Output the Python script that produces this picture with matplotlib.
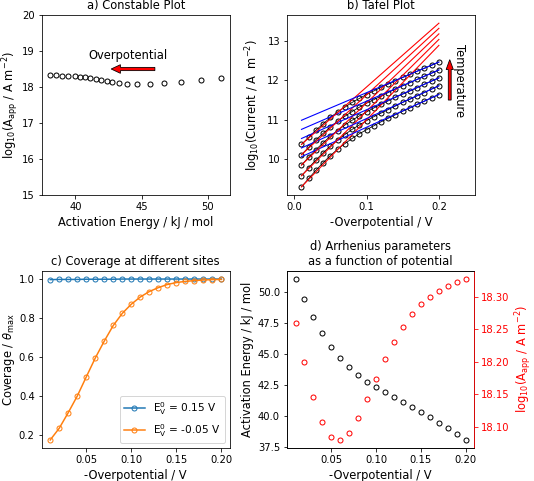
import numpy as np
import matplotlib
matplotlib.use("Agg")
import matplotlib.pyplot as plt

plt.rcParams["font.size"] = 11.5
plt.rcParams["xtick.labelsize"] = 10
plt.rcParams["ytick.labelsize"] = 10
plt.rcParams["axes.titlesize"] = 11.5
plt.rcParams["axes.labelsize"] = 11.5
plt.rcParams["legend.fontsize"] = 10.5
plt.rcParams["lines.markersize"] = 5

# -Overpotential / V
eta = [0.01, 0.02, 0.03, 0.04, 0.05, 0.06, 0.07, 0.08, 0.09, 0.10,
       0.11, 0.12, 0.13, 0.14, 0.15, 0.16, 0.17, 0.18, 0.19, 0.20]

# Arrhenius parameters
Ea = [51.02, 49.45, 47.98, 46.70, 45.60, 44.65, 43.92, 43.29, 42.79, 42.37,
      41.93, 41.54, 41.14, 40.75, 40.36, 39.94, 39.47, 39.02, 38.55, 38.10]
logA = [18.260, 18.199, 18.146, 18.107, 18.085, 18.080, 18.091, 18.113, 18.143, 18.174,
        18.204, 18.231, 18.253, 18.273, 18.288, 18.300, 18.309, 18.316, 18.322, 18.327]

# coverage
cov_015 = [0.997, 0.998, 0.998, 0.998, 0.999, 0.999, 0.999, 0.999, 1.0, 1.0,
           1.0, 1.0, 1.0, 1.0, 1.0, 1.0, 1.0, 1.0, 1.0, 1.0]
cov_m005 = [0.175, 0.235, 0.315, 0.400, 0.498, 0.595, 0.682, 0.762, 0.824, 0.871,
            0.908, 0.936, 0.956, 0.972, 0.982, 0.988, 0.992, 0.995, 0.997, 0.998]

# Tafel data, one list per temperature (low -> high)
tafel_T1 = [9.31, 9.52, 9.73, 9.92, 10.10, 10.26, 10.40, 10.53, 10.65, 10.75,
            10.85, 10.95, 11.04, 11.13, 11.22, 11.30, 11.39, 11.47, 11.56, 11.64]
tafel_T2 = [9.59, 9.79, 9.99, 10.17, 10.34, 10.49, 10.63, 10.76, 10.87, 10.98,
            11.08, 11.17, 11.26, 11.35, 11.44, 11.52, 11.61, 11.69, 11.78, 11.86]
tafel_T3 = [9.86, 10.06, 10.25, 10.42, 10.59, 10.73, 10.87, 10.99, 11.10, 11.20,
            11.30, 11.39, 11.48, 11.57, 11.65, 11.73, 11.81, 11.90, 11.98, 12.06]
tafel_T4 = [10.12, 10.31, 10.50, 10.66, 10.82, 10.97, 11.09, 11.21, 11.32, 11.42,
            11.51, 11.60, 11.69, 11.78, 11.86, 11.94, 12.02, 12.10, 12.18, 12.26]
tafel_T5 = [10.38, 10.56, 10.74, 10.90, 11.06, 11.20, 11.32, 11.44, 11.54, 11.64,
            11.73, 11.82, 11.90, 11.99, 12.07, 12.15, 12.23, 12.30, 12.38, 12.46]
tafel = [tafel_T1, tafel_T2, tafel_T3, tafel_T4, tafel_T5]

# fitted lines (value at eta=0.01 and eta=0.20)
red_start = [9.31, 9.59, 9.86, 10.12, 10.38]
red_end = [12.88, 13.03, 13.17, 13.31, 13.44]
blue_start = [10.07, 10.29, 10.53, 10.76, 10.99]
blue_end = [11.64, 11.86, 12.06, 12.26, 12.46]
line_x = [0.01, 0.20]

fig = plt.figure(figsize=(534 / 72, 481 / 72), dpi=72)
ax_a = fig.add_axes([0.078, 0.5946, 0.3526, 0.3742])
ax_b = fig.add_axes([0.5375, 0.5946, 0.3521, 0.3742])
ax_c = fig.add_axes([0.078, 0.0686, 0.3526, 0.3680])
ax_d = fig.add_axes([0.5375, 0.0686, 0.3502, 0.3680])

# a) Constable plot
ax_a.plot(Ea, logA, "o", mfc="none", mec="k")
ax_a.set_ylim(15, 20)
ax_a.set_xticks([40, 45, 50])
ax_a.arrow(46, 18.5, -3.3, 0, width=0.09, head_width=0.24, head_length=0.7,
           fc="red", ec="k", lw=0.8, length_includes_head=True)
ax_a.text(44, 18.7, "Overpotential", ha="center", va="bottom")
ax_a.set_title("a) Constable Plot")
ax_a.set_xlabel("Activation Energy / kJ / mol")
ax_a.set_ylabel(r"log$_{10}$(A$_{\rm app}$ / A m$^{-2}$)", labelpad=1)

# b) Tafel plot
for k in range(5):
    ax_b.plot(eta, tafel[k], "o-", color="k", mfc="none", lw=0.8)
for k in range(5):
    ax_b.plot(line_x, [red_start[k], red_end[k]], color="r", lw=1.1)
    ax_b.plot(line_x, [blue_start[k], blue_end[k]], color="b", lw=1.1)
ax_b.arrow(0.215, 11.5, 0, 1.02, width=0.004, head_width=0.01, head_length=0.25,
           fc="red", ec="k", lw=0.8, length_includes_head=True)
ax_b.text(0.229, 12.0, "Temperature", rotation=-90, ha="center", va="center")
ax_b.set_xlim(-0.01, 0.25)
ax_b.set_xticks([0.0, 0.1, 0.2])
ax_b.set_title("b) Tafel Plot")
ax_b.set_xlabel("-Overpotential / V")
ax_b.set_ylabel(r"log$_{10}$(Current / A  m$^{-2}$)")

# c) coverage
ax_c.plot(eta, cov_015, "o-", mfc="none", label=r"E$_{\rm V}^{0}$ = 0.15 V")
ax_c.plot(eta, cov_m005, "o-", mfc="none", label=r"E$_{\rm V}^{0}$ = -0.05 V")
ax_c.legend(loc="lower right")
ax_c.set_title("c) Coverage at different sites")
ax_c.set_xlabel("-Overpotential / V")
ax_c.set_ylabel(r"Coverage / $\theta_{\rm max}$", labelpad=2)

# d) Arrhenius parameters
ax_d.plot(eta, Ea, "o", mfc="none", mec="k")
ax_d.set_yticks([37.5, 40.0, 42.5, 45.0, 47.5, 50.0])
ax_d.set_yticklabels(["37.5", "40.0", "42.5", "45.0", "47.5", "50.0"])
ax_d.set_xlabel("-Overpotential / V")
ax_d.set_ylabel("Activation Energy / kJ / mol")
ax_d.set_title("d) Arrhenius parameters\nas a function of potential")
ax_d2 = ax_d.twinx()
ax_d2.plot(eta, logA, "o", mfc="none", mec="r")
ax_d2.set_ylabel(r"log$_{10}$(A$_{\rm app}$ / A m$^{-2}$)", color="r")
ax_d2.tick_params(axis="y", colors="r")
ax_d2.spines["right"].set_color("r")

fig.savefig("out.png", dpi=72)
